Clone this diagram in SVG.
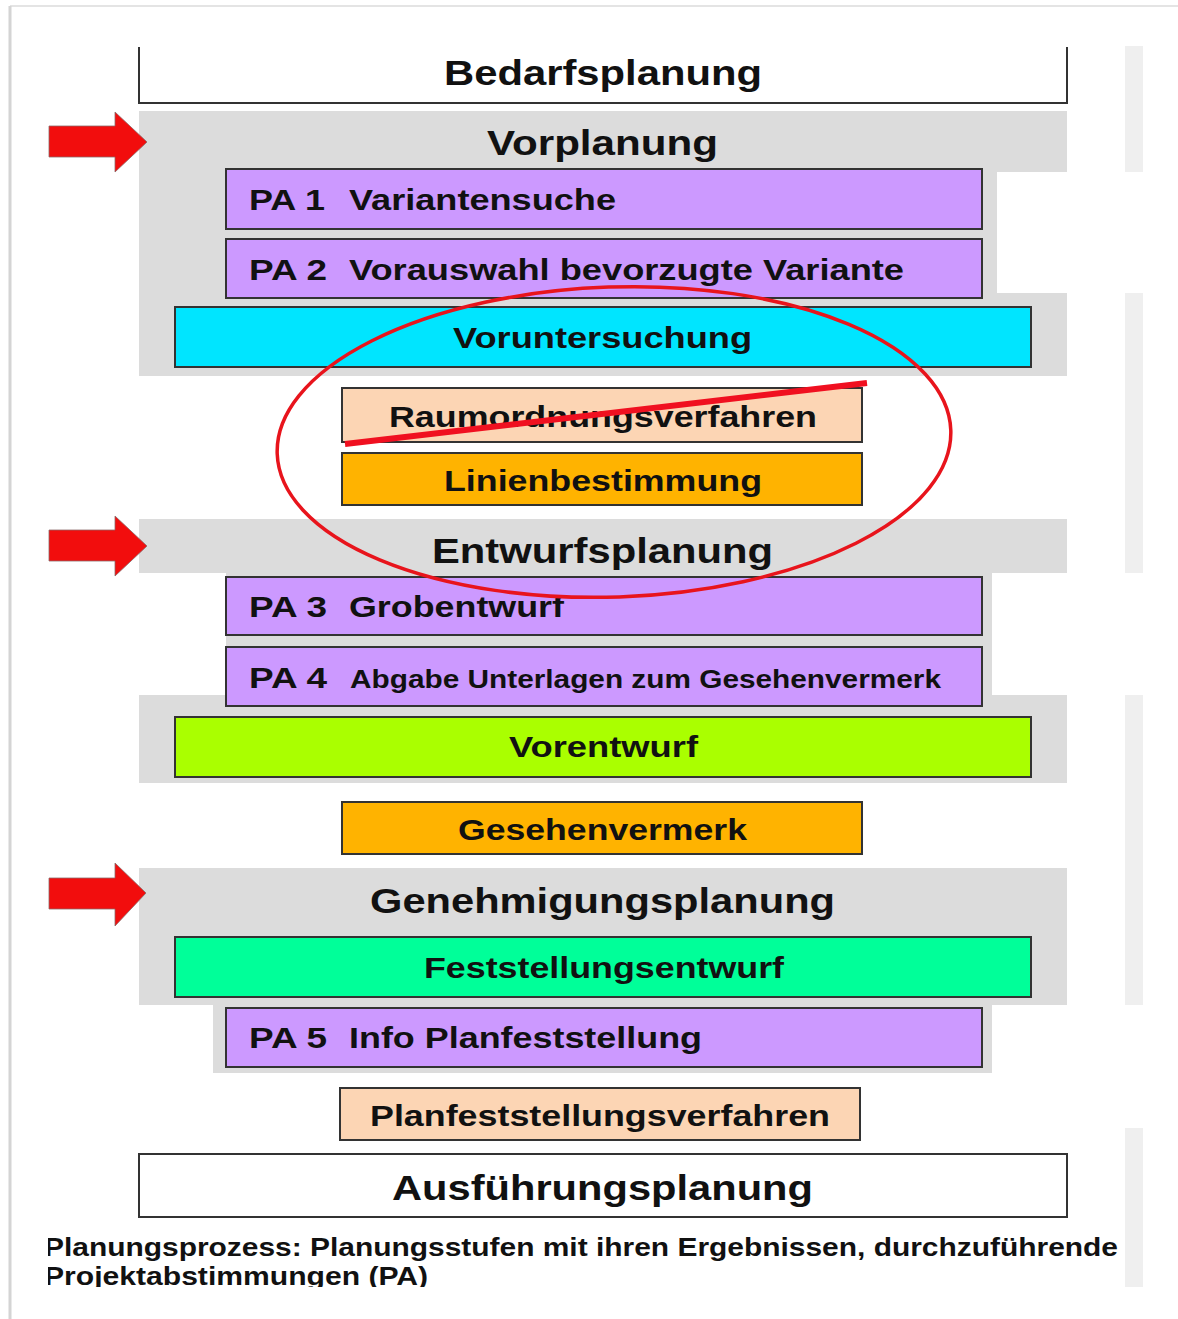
<svg xmlns="http://www.w3.org/2000/svg" width="1178" height="1319" viewBox="0 0 1178 1319">
<defs>
<style>
.t{font-family:"Liberation Sans",Arial,sans-serif;font-weight:bold;fill:#111;}
.big{font-size:35px;}
.mid{font-size:30px;}
.sm{font-size:25px;}
.cap{font-family:"Liberation Sans",Arial,sans-serif;font-weight:bold;font-size:25px;fill:#111;}
.box{stroke:#333;stroke-width:2;}
.band{fill:#DCDCDC;}
.strip{fill:#EFEFEF;}
.pa{fill:#CC99FF;}
.arrow{fill:#F20D0D;stroke:#8a6a6a;stroke-width:0.8;}
</style>
<clipPath id="capclip"><rect x="48" y="1220" width="1080" height="67"/></clipPath>
</defs>
<rect width="1178" height="1319" fill="#fff"/>
<g id="page-edge">
<line x1="10" y1="6" x2="1178" y2="6" stroke="#E4E4E4" stroke-width="2"/>
<line x1="10" y1="6" x2="10" y2="1319" stroke="#D4D4D4" stroke-width="3"/>
</g>
<g id="right-strips">
<rect class="strip" x="1125" y="46" width="18" height="126"/>
<rect class="strip" x="1125" y="293" width="18" height="280"/>
<rect class="strip" x="1125" y="695" width="18" height="310"/>
<rect class="strip" x="1125" y="1128" width="18" height="159"/>
</g>
<g id="backgrounds">
<polygon class="band" points="139,111 1067,111 1067,172 997,172 997,293 1067,293 1067,376 139,376"/>
<rect class="band" x="139" y="519" width="928" height="54"/>
<rect class="band" x="226" y="573" width="766" height="125"/>
<rect class="band" x="139" y="695" width="928" height="88"/>
<rect class="band" x="139" y="868" width="928" height="137"/>
<rect class="band" x="213" y="1005" width="779" height="68"/>
</g>
<g id="bedarfsplanung">
<path d="M139,47 V103 H1067 V47" fill="none" stroke="#333" stroke-width="2"/>
<text class="t big" x="444" y="85" textLength="318" lengthAdjust="spacingAndGlyphs">Bedarfsplanung</text>
</g>
<g id="vorplanung">
<text class="t big" x="487" y="155" textLength="231" lengthAdjust="spacingAndGlyphs">Vorplanung</text>
</g>
<g id="pa1">
<rect class="box pa" x="226" y="169" width="756" height="60"/>
<text class="t mid" x="249" y="210" textLength="76" lengthAdjust="spacingAndGlyphs">PA 1</text>
<text class="t mid" x="349" y="210" textLength="267" lengthAdjust="spacingAndGlyphs">Variantensuche</text>
</g>
<g id="pa2">
<rect class="box pa" x="226" y="239" width="756" height="59"/>
<text class="t mid" x="249" y="280" textLength="78" lengthAdjust="spacingAndGlyphs">PA 2</text>
<text class="t mid" x="349" y="280" textLength="555" lengthAdjust="spacingAndGlyphs">Vorauswahl bevorzugte Variante</text>
</g>
<g id="voruntersuchung">
<rect class="box" x="175" y="307" width="856" height="60" fill="#00E5FF"/>
<text class="t mid" x="453" y="348" textLength="299" lengthAdjust="spacingAndGlyphs">Voruntersuchung</text>
</g>
<g id="raumordnungsverfahren">
<rect class="box" x="342" y="388" width="520" height="54" fill="#FCD5B4"/>
<text class="t mid" x="389" y="427" textLength="428" lengthAdjust="spacingAndGlyphs">Raumordnungsverfahren</text>
</g>
<g id="linienbestimmung">
<rect class="box" x="342" y="453" width="520" height="52" fill="#FFB300"/>
<text class="t mid" x="444" y="491" textLength="318" lengthAdjust="spacingAndGlyphs">Linienbestimmung</text>
</g>
<g id="entwurfsplanung">
<text class="t big" x="432" y="563" textLength="341" lengthAdjust="spacingAndGlyphs">Entwurfsplanung</text>
</g>
<g id="pa3">
<rect class="box pa" x="226" y="577" width="756" height="58"/>
<text class="t mid" x="249" y="617" textLength="78" lengthAdjust="spacingAndGlyphs">PA 3</text>
<text class="t mid" x="349" y="617" textLength="215" lengthAdjust="spacingAndGlyphs">Grobentwurf</text>
</g>
<g id="pa4">
<rect class="box pa" x="226" y="647" width="756" height="59"/>
<text class="t mid" x="249" y="688" textLength="78" lengthAdjust="spacingAndGlyphs">PA 4</text>
<text class="t sm" x="350" y="688" textLength="591" lengthAdjust="spacingAndGlyphs">Abgabe Unterlagen zum Gesehenvermerk</text>
</g>
<g id="vorentwurf">
<rect class="box" x="175" y="717" width="856" height="60" fill="#AAFF00"/>
<text class="t mid" x="509" y="757" textLength="189" lengthAdjust="spacingAndGlyphs">Vorentwurf</text>
</g>
<g id="gesehenvermerk">
<rect class="box" x="342" y="802" width="520" height="52" fill="#FFB300"/>
<text class="t mid" x="458" y="840" textLength="289" lengthAdjust="spacingAndGlyphs">Gesehenvermerk</text>
</g>
<g id="genehmigungsplanung">
<text class="t big" x="370" y="913" textLength="465" lengthAdjust="spacingAndGlyphs">Genehmigungsplanung</text>
</g>
<g id="feststellungsentwurf">
<rect class="box" x="175" y="937" width="856" height="60" fill="#00FF99"/>
<text class="t mid" x="424" y="978" textLength="360" lengthAdjust="spacingAndGlyphs">Feststellungsentwurf</text>
</g>
<g id="pa5">
<rect class="box pa" x="226" y="1008" width="756" height="59"/>
<text class="t mid" x="249" y="1048" textLength="78" lengthAdjust="spacingAndGlyphs">PA 5</text>
<text class="t mid" x="349" y="1048" textLength="353" lengthAdjust="spacingAndGlyphs">Info Planfeststellung</text>
</g>
<g id="planfeststellungsverfahren">
<rect class="box" x="340" y="1088" width="520" height="52" fill="#FCD5B4"/>
<text class="t mid" x="370" y="1126" textLength="460" lengthAdjust="spacingAndGlyphs">Planfeststellungsverfahren</text>
</g>
<g id="ausfuehrungsplanung">
<rect class="box" x="139" y="1154" width="928" height="63" fill="#fff"/>
<text class="t big" x="392" y="1200" textLength="421" lengthAdjust="spacingAndGlyphs">Ausführungsplanung</text>
</g>
<g id="caption" clip-path="url(#capclip)">
<text class="cap" x="44" y="1256" textLength="1074" lengthAdjust="spacingAndGlyphs">Planungsprozess: Planungsstufen mit ihren Ergebnissen, durchzuführende</text>
<text class="cap" x="44" y="1285" textLength="384" lengthAdjust="spacingAndGlyphs">Projektabstimmungen (PA)</text>
</g>
<g id="connectors">
<polygon class="arrow" points="49,126 115,126 115,112 147,142 115,172 115,157 49,157"/>
<polygon class="arrow" points="49,530 115,530 115,516 147,546 115,576 115,561 49,561"/>
<polygon class="arrow" points="49,878 115,878 115,863 146,893 115,926 115,909 49,909"/>
<ellipse cx="614" cy="442" rx="337" ry="155" fill="none" stroke="#E8141C" stroke-width="3.5" transform="rotate(-2 614 442)"/>
<line x1="345" y1="444" x2="867" y2="383" stroke="#F01020" stroke-width="6"/>
</g>
</svg>
